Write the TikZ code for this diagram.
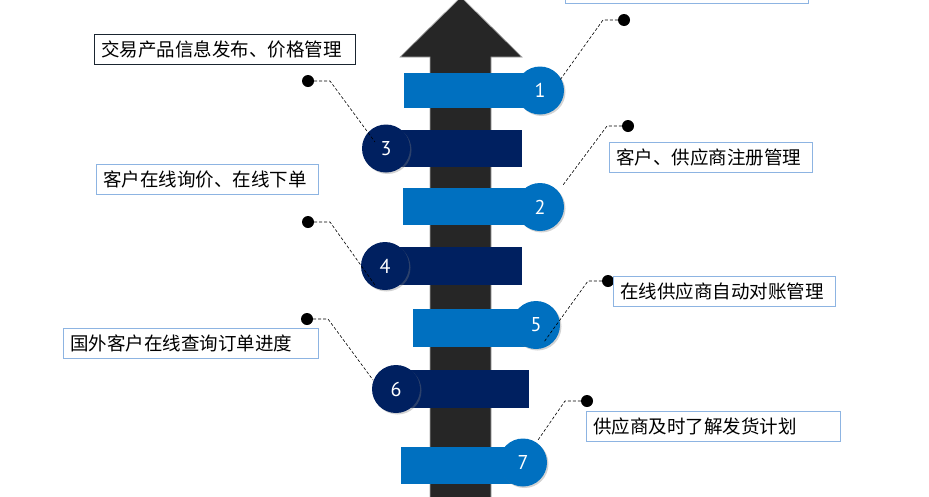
\documentclass[tikz,border=0pt]{standalone}
\usepackage{fontspec}
\newfontfamily\cjk{Noto Sans CJK SC}
\newfontfamily\numfont{PT Sans}
\usetikzlibrary{shadows}
\definecolor{lblue}{HTML}{0070C0}
\definecolor{navy}{HTML}{002060}
\definecolor{shaftc}{HTML}{262626}
\definecolor{bline}{HTML}{8DB4E2}
\definecolor{dline}{HTML}{1A2530}
\begin{document}
\begin{tikzpicture}[x=1pt,y=-1pt,
  num/.style={circle, minimum size=48pt, inner sep=0pt, text=white,
    font=\numfont\fontsize{20}{20}\selectfont,
    drop shadow={shadow xshift=1.5pt, shadow yshift=-1.5pt, opacity=0.35}},
  dotn/.style={circle, fill=black, minimum size=12pt, inner sep=0pt},
  conn/.style={draw=black, line width=0.6pt, dash pattern=on 3pt off 2pt},
  tbox/.style={draw=bline, line width=0.9pt, anchor=north west, inner xsep=7pt,
    inner ysep=0pt, minimum height=30pt, align=left,
    font=\cjk\fontsize{18.5}{20}\selectfont},
  lbar/.style={fill=lblue},
  dbar/.style={fill=navy}]
\useasboundingbox (0,0) rectangle (929,496);
\clip (0,0) rectangle (929,496);
% top partial box
\node[draw=bline, line width=0.9pt, minimum width=243pt, minimum height=40pt, inner sep=0pt, anchor=south west] (tG) at (565,4) {};
% arrow
\fill[shaftc, draw=gray!70, line width=0.7pt] (430,505) -- (430,57) -- (400,57) -- (461,-3) -- (522,57) -- (491,57) -- (491,505) -- cycle;
% bars
\fill[lbar] (404,73) rectangle (540,108);
\fill[dbar] (386,130) rectangle (522,167);
\fill[lbar] (403,188) rectangle (540,225);
\fill[dbar] (385,247) rectangle (522,285);
\fill[lbar] (413,309) rectangle (536,347);
\fill[dbar] (396,370) rectangle (529,408);
\fill[lbar] (401,447) rectangle (523,484);
% circles
\node[num, fill=lblue] (n1) at (540,90.5) {1};
\node[num, fill=navy] (n3) at (386,148.5) {3};
\node[num, fill=lblue] (n2) at (540,207) {2};
\node[num, fill=navy] (n4) at (385,266) {4};
\node[num, fill=lblue] (n5) at (536,325) {5};
\node[num, fill=navy] (n6) at (396,389) {6};
\node[num, fill=lblue] (n7) at (523,462.5) {7};
% dots
\node[dotn] (d1) at (624,20) {};
\node[dotn] (d2) at (628,126) {};
\node[dotn] (d3) at (308,81) {};
\node[dotn] (d4) at (308,222) {};
\node[dotn] (d5) at (608,281) {};
\node[dotn] (d6) at (307,319) {};
\node[dotn] (d7) at (587,401) {};
% connector corners and ends
\coordinate (k1) at (603,20);  \coordinate (e1) at (560,80);
\coordinate (k2) at (607,126); \coordinate (e2) at (563,185);
\coordinate (k3) at (330,81);  \coordinate (e3) at (375,142);
\coordinate (k4) at (330,222); \coordinate (e4) at (375,285);
\coordinate (k5) at (588,281); \coordinate (e5) at (544,342);
\coordinate (k6) at (328,319); \coordinate (e6) at (373,380);
\coordinate (k7) at (565,401); \coordinate (e7) at (538,440);
\draw[conn] (d1) -- (k1) -- (e1);
\draw[conn] (d2) -- (k2) -- (e2);
\draw[conn] (d3) -- (k3) -- (e3);
\draw[conn] (d4) -- (k4) -- (e4);
\draw[conn] (d5) -- (k5) -- (e5);
\draw[conn] (d6) -- (k6) -- (e6);
\draw[conn] (d7) -- (k7) -- (e7);
% text boxes
\node[tbox, draw=dline, text width=247pt] (tA) at (94,34) {交易产品信息发布、价格管理};
\node[tbox, text width=208pt] (tB) at (96,164) {客户在线询价、在线下单};
\node[tbox, text width=189pt] (tC) at (609,142) {客户、供应商注册管理};
\node[tbox, fill=white, text width=208pt] (tD) at (613,276) {在线供应商自动对账管理};
\node[tbox, text width=241pt] (tE) at (63,328) {国外客户在线查询订单进度};
\node[tbox, text width=240pt] (tF) at (586,411) {供应商及时了解发货计划};
\end{tikzpicture}
\end{document}
